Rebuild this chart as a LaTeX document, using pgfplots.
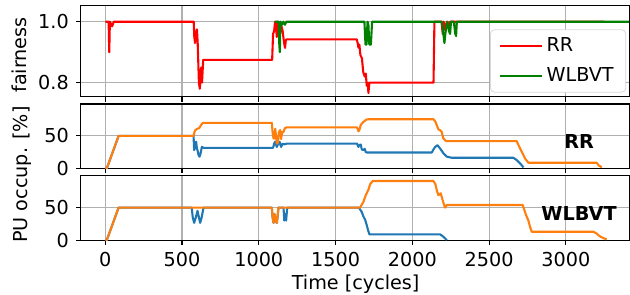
\documentclass[border=0pt]{standalone}
\usepackage{fontspec}
\setmainfont{DejaVu Sans}
\usepackage{pgfplots}
\pgfplotsset{compat=1.18}
\definecolor{mplblue}{HTML}{1F77B4}
\definecolor{mplorange}{HTML}{FF7F0E}
\definecolor{mplgreen}{rgb}{0,0.5,0}
\definecolor{mplred}{rgb}{1,0,0}
\definecolor{gridgray}{HTML}{B0B0B0}
\newcommand{\fs}{\fontsize{9.6}{11.5}\selectfont}
\pgfplotsset{
  common/.style={
    scale only axis, width=274.2pt,
    anchor=north west,
    xmin=-160, xmax=3412,
    xtick={0,500,1000,1500,2000,2500,3000},
    axis line style={line width=0.55pt},
    grid=major, major grid style={gridgray, line width=0.55pt},
    tick align=outside, tick pos=left,
    major tick length=2.45pt,
    every tick/.style={black, line width=0.55pt},
    /pgf/number format/assume math mode=true,
    /pgf/number format/1000 sep={},
    tick label style={font=\fs},
    every axis plot/.append style={line width=1.05pt, line join=round},
    clip=true,
  }
}
\begin{document}
\begin{tikzpicture}[font=\fs]
\useasboundingbox (0,0) rectangle (315pt,-147pt);
% ---------- top: fairness ----------
\begin{axis}[common, at={(40.35pt,-2.85pt)}, height=45.5pt,
  ymin=0.754, ymax=1.0525, ytick={0.8,1.0}, yticklabels={0.8,1.0},
  xticklabels={},
  legend cell align=left,
  legend style={at={(0.9945,0.74)}, anchor=north east, draw=black!15, rounded corners=2pt,
    font=\fs, row sep=2.2pt, inner xsep=4pt, inner ysep=2pt},
  legend image code/.code={\draw[#1, line width=1.05pt] (0pt,0pt) -- (21pt,0pt);},
]
\addplot[mplred] coordinates {
(0,1.0)(22,1.0)(26,0.90)(30,1.0)(45,0.985)(55,1.0)(576,1.0)
(580,0.95)(585,0.93)(590,0.96)(597,0.975)(602,0.93)(610,0.80)(616,0.78)(620,0.82)(625,0.85)(630,0.80)(638,0.875)(1087,0.875)
(1093,0.96)(1100,0.97)(1106,1.0)(1112,0.99)(1117,0.95)(1122,1.0)(1130,0.98)(1138,0.96)(1145,0.99)(1155,0.97)(1165,0.93)(1171,0.914)(1176,0.94)(1182,0.942)(1638,0.942)
(1644,0.93)(1649,0.915)(1655,0.925)(1662,0.89)(1672,0.88)(1680,0.835)(1690,0.82)(1697,0.83)(1703,0.79)(1710,0.80)(1714,0.766)(1720,0.80)(2138,0.80)(2144,1.0)
(2190,1.0)(2198,0.96)(2204,1.0)(2218,0.97)(2224,1.0)(2240,0.975)(2246,1.0)(3250,1.0)
};
\addlegendentry{RR}
\addplot[mplgreen] coordinates {
(1107,1.0)(1130,1.0)(1133,0.93)(1137,0.90)(1141,1.0)(1150,0.99)(1160,1.0)(1170,0.99)(1180,1.0)
(1688,1.0)(1695,0.925)(1702,0.925)(1708,1.0)(1714,0.99)(1720,0.925)(1730,0.925)(1738,1.0)
(2192,1.0)(2200,0.97)(2209,0.93)(2215,0.96)(2222,0.99)(2230,1.0)(2238,0.97)(2246,0.96)(2252,1.0)(2270,1.0)(2280,0.96)(2285,0.953)(2290,1.0)(3412,1.0)
};
\addlegendentry{WLBVT}
\end{axis}
% ---------- middle: RR ----------
\begin{axis}[common, at={(40.35pt,-52pt)}, height=32.2pt,
  ymin=0, ymax=99, ytick={0,50}, xticklabels={}]
\addplot[mplblue] coordinates {
(0,0)(10,0)(87,50)(575,50)(579,28)(586,35)(592,41)(597,30)(601,28)(608,20)(614,18)(620,22)(629,33)(640,31.6)(1093,31.6)
(1100,38)(1107,41)(1117,33)(1127,38)(1135,41)(1145,33)(1155,38)(1165,37)(1182,38)(1640,38)
(1649,33)(1656,36)(1664,36.7)(1670,30)(1677,28)(1690,30)(1697,25)(1703,24.5)(2127,24.5)(2140,30)(2149,33)(2164,35.7)(2181,30.6)(2203,23)(2225,18)(2257,16.3)(2658,16.3)(2680,12.8)(2702,7.7)(2724,1.5)
};
\addplot[mplorange] coordinates {
(0,0)(10,0)(87,50)(575,50)(580,55)(586,58.7)(600,61)(612,62)(625,67)(635,70)(1085,70)
(1090,55)(1096,46)(1102,46)(1107,61)(1112,50)(1117,38)(1125,40)(1130,55)(1139,59)(1145,45)(1152,56)(1161,56)(1170,62)(1182,63)(1640,63)
(1649,57)(1655,59)(1663,66)(1671,69)(1685,72)(1700,75)(1714,75.5)(2138,75.5)(2150,72)(2160,66)(2170,60)(2181,58.7)(2192,56)(2200,47)(2210,44)(2220,42)(2680,42)(2691,36)(2713,25.5)(2734,15.3)(2756,8.7)(3201,8.7)(3212,5)(3225,3)(3234,1.5)
};
\node[font=\fs\bfseries] at (axis cs:3086,42) {RR};
\end{axis}
% ---------- bottom: WLBVT ----------
\begin{axis}[common, at={(40.35pt,-87.85pt)}, height=32.2pt,
  ymin=0, ymax=99, ytick={0,50}]
\addplot[mplblue] coordinates {
(0,0)(10,0)(87,50)(563,50)(570,35)(579,26.5)(590,35)(601,45)(610,35)(618,26.5)(628,35)(640,50)(1085,50)
(1090,35)(1096,26.5)(1103,40)(1110,30)(1117,26.5)(1122,35)(1128,50)(1161,50)(1166,30)(1172,40)(1178,30)(1185,50)
(1652,50)(1671,43)(1682,36)(1693,31)(1703,23)(1712,15)(1721,8.7)(2181,8.7)(2192,7)(2203,5)(2225,0)
};
\addplot[mplorange] coordinates {
(0,0)(10,0)(87,50)(1085,50)(1090,35)(1096,26.5)(1103,40)(1110,30)(1117,26.5)(1122,35)(1128,50)(1652,50)
(1660,50)(1672,55)(1682,59)(1695,68)(1703,72)(1715,78)(1725,86)(1742,90.8)(2138,90.8)(2150,86)(2160,76)(2170,69)(2185,72)(2198,61)(2210,52)(2214,50)(2225,54)(2719,54)
(2734,43)(2745,36)(2756,30)(2767,20)(2778,12.8)(3180,12.8)(3201,10)(3215,7)(3227,5)(3245,3)(3266,1)
};
\node[font=\fs\bfseries] at (axis cs:3086,40.5) {WLBVT};
\end{axis}
\node[rotate=90, anchor=base] at (13.4pt,-27.5pt) {fairness};
\node[rotate=90, anchor=base] at (13.6pt,-87.35pt) {PU occup. [\%]};
\node[anchor=base] at (177.8pt,-144.5pt) {Time [cycles]};
\end{tikzpicture}
\end{document}
